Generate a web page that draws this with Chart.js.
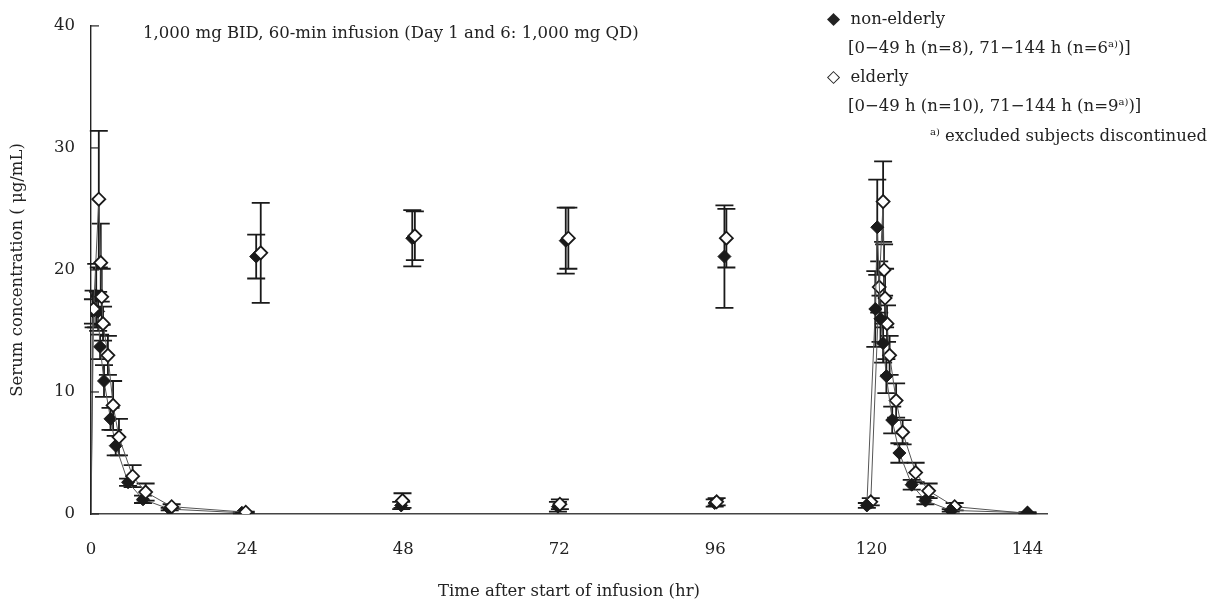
<!DOCTYPE html>
<html>
<head>
<meta charset="utf-8">
<title>Serum concentration</title>
<script src="https://cdn.jsdelivr.net/npm/chart.js@4.4.1/dist/chart.umd.min.js"></script>
<style>
  body { margin: 0; background: #fff; }
  #wrap { position: relative; width: 1226px; height: 604px; font-family: "DejaVu Serif", serif; color: #222; }
  #pkChart { position: absolute; left: 0; top: 0; }
  .note { position: absolute; font-size: 16.5px; line-height: 18px; white-space: nowrap; }
  .note sup { font-size: 10px; line-height: 0; vertical-align: 6px; }
  .mark { font-family: "DejaVu Sans", sans-serif; font-size: 17px; }
</style>
</head>
<body>
<div id="wrap">
  <canvas id="pkChart" width="1226" height="604"></canvas>
  <div class="note" style="left:143px; top:24px;">1,000 mg BID, 60-min infusion (Day 1 and 6: 1,000 mg QD)</div>
  <div class="note" style="left:827px; top:9px;"><span class="mark">◆</span>&nbsp; non-elderly</div>
  <div class="note" style="left:848px; top:39px;">[0−49 h (n=8), 71−144 h (n=6<sup>a)</sup>)]</div>
  <div class="note" style="left:827px; top:67px;"><span class="mark">◇</span>&nbsp; elderly</div>
  <div class="note" style="left:848px; top:97px;">[0−49 h (n=10), 71−144 h (n=9<sup>a)</sup>)]</div>
  <div class="note" style="left:930px; top:127px;"><sup>a)</sup> excluded subjects discontinued</div>
</div>
<script>
// Day 1 (0-24 h), non-elderly
const day1HoursNonElderly = [0, 0.3, 0.8, 1.1, 1.4, 2.0, 3.0, 3.8, 5.7, 8.0, 12.1, 23.2];
const day1ConcNonElderly  = [0, 16.6, 17.9, 16.6, 13.7, 10.9, 7.8, 5.6, 2.6, 1.2, 0.4, 0.1];
const day1SdNonElderly    = [0, 1.0, 2.6, 1.6, 1.0, 1.3, 0.9, 0.8, 0.3, 0.3, 0.1, 0.05];

// Day 1 (0-24 h), elderly
const day1HoursElderly = [0, 0.4, 1.2, 1.5, 1.65, 1.85, 2.6, 3.4, 4.3, 6.4, 8.4, 12.4, 23.8];
const day1ConcElderly  = [0, 16.8, 25.8, 20.6, 17.8, 15.6, 13.0, 8.9, 6.3, 3.1, 1.8, 0.6, 0.15];
const day1SdElderly    = [0, 1.5, 5.6, 3.2, 2.3, 1.4, 1.6, 2.0, 1.5, 0.9, 0.7, 0.2, 0.05];

// Days 2-5: troughs and post-infusion levels, non-elderly
const midHoursNonElderly = [25.4, 47.7, 49.4, 71.8, 73.0, 95.9, 97.4];
const midConcNonElderly  = [21.1, 0.7, 22.6, 0.6, 22.4, 0.9, 21.1];
const midSdNonElderly    = [1.8, 0.3, 2.3, 0.4, 2.7, 0.3, 4.2];

// Days 2-5: troughs and post-infusion levels, elderly
const midHoursElderly = [26.1, 47.9, 49.8, 72.1, 73.4, 96.2, 97.7];
const midConcElderly  = [21.4, 1.1, 22.8, 0.8, 22.6, 1.0, 22.6];
const midSdElderly    = [4.1, 0.6, 2.0, 0.4, 2.5, 0.3, 2.4];

// Day 6 (119-144 h), non-elderly
const day6HoursNonElderly = [119.3, 120.6, 120.9, 121.4, 121.8, 122.3, 123.2, 124.3, 126.2, 128.3, 132.2, 144];
const day6ConcNonElderly  = [0.7, 16.8, 23.5, 16.0, 14.0, 11.3, 7.7, 5.0, 2.4, 1.1, 0.3, 0.1];
const day6SdNonElderly    = [0.2, 3.1, 3.9, 1.9, 1.6, 1.4, 1.1, 0.8, 0.4, 0.3, 0.1, 0.05];

// Day 6 (119-144 h), elderly
const day6HoursElderly = [119.9, 121.2, 121.8, 121.95, 122.1, 122.4, 122.8, 123.8, 124.8, 126.8, 128.8, 132.8, 144];
const day6ConcElderly  = [1.0, 18.6, 25.6, 20.0, 17.7, 15.6, 13.0, 9.3, 6.7, 3.4, 1.9, 0.6, 0.05];
const day6SdElderly    = [0.3, 2.1, 3.3, 2.1, 2.4, 1.5, 1.6, 1.4, 1.0, 0.8, 0.6, 0.3, 0.05];

const xTickLabels = [0, 24, 48, 72, 96, 120, 144];
const yTickLabels = [0, 10, 20, 30, 40];

const toPoints = (hours, conc) => hours.map((h, i) => ({ x: h, y: conc[i] }));

// hide the marker of the (0, 0) start of infusion
const markerSize = (ctx) => (ctx.raw && ctx.raw.x === 0 && ctx.raw.y === 0) ? 0 : 6.5;

const elderlyStyle = {
  pointStyle: 'rectRot',
  pointRadius: markerSize,
  pointHoverRadius: markerSize,
  pointBackgroundColor: '#ffffff',
  pointBorderColor: '#1a1a1a',
  pointBorderWidth: 1.8,
  borderColor: '#555555',
  borderWidth: 1,
  tension: 0
};

const nonElderlyStyle = {
  pointStyle: 'rectRot',
  pointRadius: markerSize,
  pointHoverRadius: markerSize,
  pointBackgroundColor: '#1a1a1a',
  pointBorderColor: '#1a1a1a',
  pointBorderWidth: 1,
  borderColor: '#555555',
  borderWidth: 1,
  tension: 0
};

// Error bars (mean ± SD), drawn under the markers
const errorBarsPlugin = {
  id: 'errorBars',
  beforeDatasetsDraw(chart) {
    const ctx = chart.ctx;
    const yScale = chart.scales.y;
    ctx.save();
    ctx.strokeStyle = '#1a1a1a';
    ctx.lineWidth = 1.8;
    chart.data.datasets.forEach(function(dataset, i) {
      const meta = chart.getDatasetMeta(i);
      dataset.sd.forEach(function(sd, j) {
        const point = dataset.data[j];
        if (!sd || (point.x === 0 && point.y === 0)) {
          return;
        }
        const x = meta.data[j].x;
        const top = yScale.getPixelForValue(point.y + sd);
        const bottom = yScale.getPixelForValue(Math.max(point.y - sd, 0));
        ctx.beginPath();
        ctx.moveTo(x, top);
        ctx.lineTo(x, bottom);
        ctx.moveTo(x - 9, top);
        ctx.lineTo(x + 9, top);
        if (point.y - sd > 0) {
          ctx.moveTo(x - 9, bottom);
          ctx.lineTo(x + 9, bottom);
        }
        ctx.stroke();
      });
    });
    ctx.restore();
  }
};

// Short y ticks pointing into the plot
const innerTicksPlugin = {
  id: 'innerTicks',
  afterDraw(chart) {
    const ctx = chart.ctx;
    const yScale = chart.scales.y;
    const left = chart.chartArea.left;
    ctx.save();
    ctx.strokeStyle = '#222222';
    ctx.lineWidth = 1.2;
    yTickLabels.forEach(function(value) {
      const y = yScale.getPixelForValue(value);
      ctx.beginPath();
      ctx.moveTo(left, y);
      ctx.lineTo(left + 8, y);
      ctx.stroke();
    });
    ctx.restore();
  }
};

const labelFont = { family: '"DejaVu Serif", serif', size: 16.5 };

const chartCanvas = document.querySelector('#pkChart').getContext('2d');
const pkChart = new Chart(chartCanvas, {
  type: 'line',
  data: {
    datasets: [
      Object.assign({ data: toPoints(day1HoursElderly, day1ConcElderly), sd: day1SdElderly, showLine: true }, elderlyStyle),
      Object.assign({ data: toPoints(midHoursElderly, midConcElderly), sd: midSdElderly, showLine: false }, elderlyStyle),
      Object.assign({ data: toPoints(day6HoursElderly, day6ConcElderly), sd: day6SdElderly, showLine: true, order: 2 }, elderlyStyle),
      Object.assign({ data: toPoints(day1HoursNonElderly, day1ConcNonElderly), sd: day1SdNonElderly, showLine: true }, nonElderlyStyle),
      Object.assign({ data: toPoints(midHoursNonElderly, midConcNonElderly), sd: midSdNonElderly, showLine: false }, nonElderlyStyle),
      Object.assign({ data: toPoints(day6HoursNonElderly, day6ConcNonElderly), sd: day6SdNonElderly, showLine: true, order: 1 }, nonElderlyStyle)
    ]
  },
  options: {
    responsive: false,
    animation: false,
    devicePixelRatio: 1,
    layout: {
      padding: { top: 14, right: 179, left: 0, bottom: 0 }
    },
    plugins: {
      legend: { display: false },
      tooltip: { enabled: false }
    },
    scales: {
      x: {
        type: 'linear',
        min: 0,
        max: 147,
        afterBuildTicks: function(scale) {
          scale.ticks = xTickLabels.map((v) => ({ value: v }));
        },
        afterFit: function(scale) {
          scale.height = 90;
        },
        grid: { display: false, drawTicks: false },
        border: { display: true, color: '#444444', width: 1.6 },
        ticks: { padding: 26, color: '#222222', font: labelFont, maxRotation: 0 },
        title: {
          display: true,
          text: 'Time after start of infusion (hr)',
          color: '#222222',
          font: labelFont,
          padding: { top: 0, bottom: 2 }
        }
      },
      y: {
        min: 0,
        max: 40,
        afterBuildTicks: function(scale) {
          scale.ticks = yTickLabels.map((v) => ({ value: v }));
        },
        afterFit: function(scale) {
          scale.width = 91;
        },
        grid: { display: false, drawTicks: false },
        border: { display: true, color: '#222222', width: 1.4 },
        ticks: { padding: 16, color: '#222222', font: labelFont },
        title: {
          display: true,
          text: 'Serum concentration ( μg/mL)',
          color: '#222222',
          font: labelFont,
          padding: { top: 8, bottom: 0 }
        }
      }
    }
  },
  plugins: [errorBarsPlugin, innerTicksPlugin]
});
</script>
</body>
</html>
